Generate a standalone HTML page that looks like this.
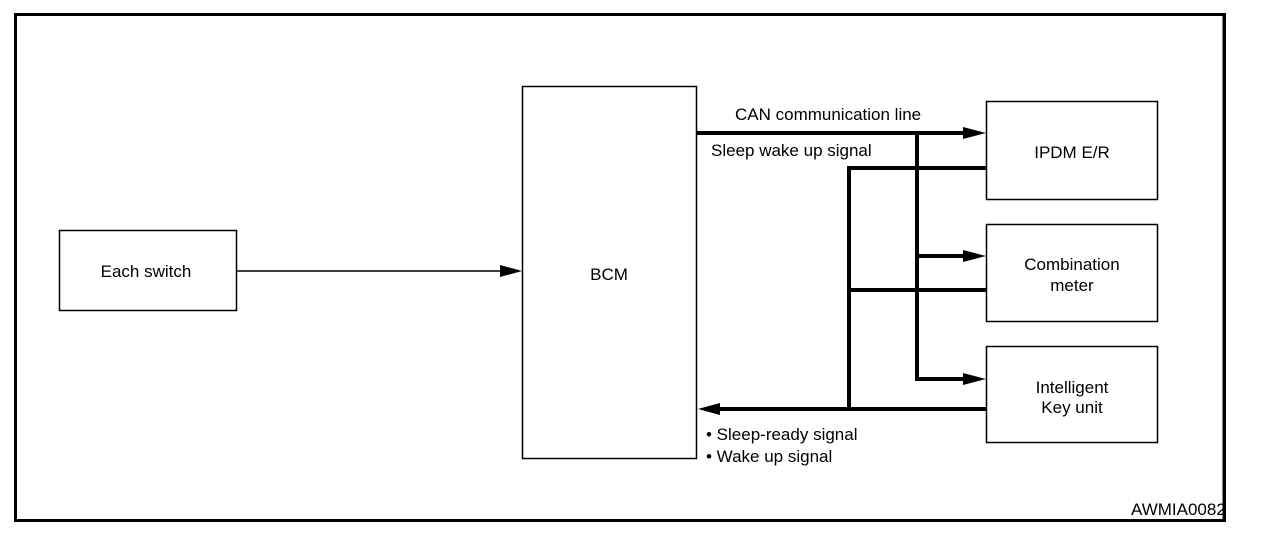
<!DOCTYPE html>
<html><head><meta charset="utf-8"><style>
html,body{margin:0;padding:0;background:#fff;width:1264px;height:540px;overflow:hidden}
text{font-family:"Liberation Sans",Arial,sans-serif;font-size:17px;fill:#000}
</style></head><body>
<svg width="1264" height="540" viewBox="0 0 1264 540" xmlns="http://www.w3.org/2000/svg">
<text x="1131" y="515" font-size="13.5">AWMIA0082GE</text>
<rect x="15.5" y="14.5" width="1209" height="506" fill="none" stroke="#000" stroke-width="3"/>
<rect x="1226" y="10" width="38" height="520" fill="#fff"/>
<line x1="1224" y1="13" x2="1224" y2="522" stroke="#000" stroke-width="3"/>
<g fill="none" stroke="#000" stroke-width="1.5">
<rect x="59.5" y="230.5" width="177" height="80"/>
<rect x="522.5" y="86.5" width="174" height="372"/>
<rect x="986.5" y="101.5" width="171" height="98"/>
<rect x="986.5" y="224.5" width="171" height="97"/>
<rect x="986.5" y="346.5" width="171" height="96"/>
</g>
<line x1="237" y1="271" x2="505" y2="271" stroke="#000" stroke-width="1.5"/>
<path d="M500,265 L522,271 L500,277 Z" fill="#000"/>
<g stroke="#000" stroke-width="4" fill="none">
<line x1="697" y1="133" x2="966" y2="133"/>
<polyline points="917,133 917,379 966,379"/>
<line x1="917" y1="256" x2="966" y2="256"/>
<polyline points="986,168 849,168 849,409"/>
<line x1="849" y1="290" x2="986" y2="290"/>
<line x1="986" y1="409" x2="716" y2="409"/>
</g>
<g fill="#000">
<path d="M963,127 L986,133 L963,139 Z"/>
<path d="M963,250 L986,256 L963,262 Z"/>
<path d="M963,373 L986,379 L963,385 Z"/>
<path d="M720,403 L698,409 L720,415 Z"/>
</g>
<text x="735" y="120">CAN communication line</text>
<text x="711" y="156">Sleep wake up signal</text>
<text x="706" y="440">• Sleep-ready signal</text>
<text x="706" y="462">• Wake up signal</text>
<text x="146" y="277" text-anchor="middle">Each switch</text>
<text x="609" y="280" text-anchor="middle">BCM</text>
<text x="1072" y="158" text-anchor="middle">IPDM E/R</text>
<text x="1072" y="270" text-anchor="middle">Combination</text>
<text x="1072" y="291" text-anchor="middle">meter</text>
<text x="1072" y="393" text-anchor="middle">Intelligent</text>
<text x="1072" y="413" text-anchor="middle">Key unit</text>
</svg>
</body></html>
